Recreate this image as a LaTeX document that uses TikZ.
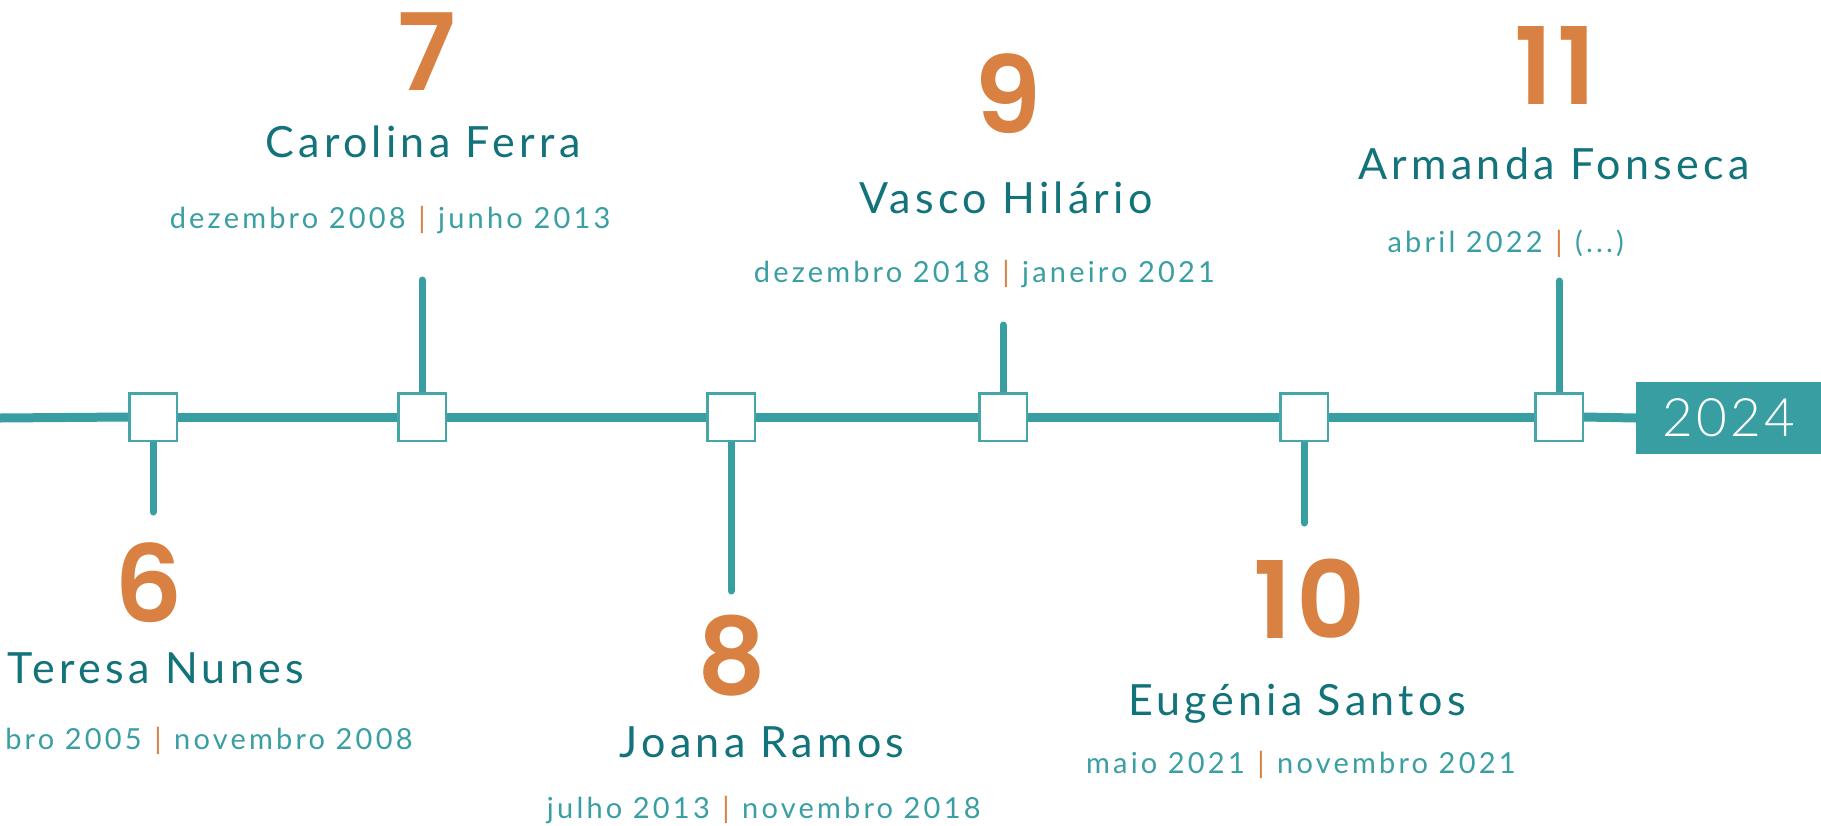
\documentclass[tikz,border=0pt]{standalone}
\usepackage{fontspec}
\setmainfont{Lato}
\newfontfamily\namefont{Lato}[LetterSpace=10]
\newfontfamily\datefont{Lato}[LetterSpace=11]
\newfontfamily\numfont{Poppins SemiBold}[LetterSpace=4]
\newfontfamily\yearfont{Lato Light}[LetterSpace=6]
\definecolor{teal1}{HTML}{389EA2}
\definecolor{tealdark}{HTML}{13737A}
\definecolor{tealtxt}{HTML}{3A9FA3}
\definecolor{orng}{HTML}{D98142}
\definecolor{sqborder}{HTML}{45A5A8}
\pgfdeclarelayer{bg}
\pgfsetlayers{bg,main}
\tikzset{
  sq/.style={draw=sqborder, line width=2.5pt, fill=white, minimum size=47.5pt, inner sep=0pt},
  tl/.style={draw=teal1, line width=9pt},
  stem/.style={draw=teal1, line width=7pt, line cap=round},
  num/.style={text=orng, inner sep=0pt, anchor=base, font=\numfont\fontsize{107}{110}\selectfont},
  pname/.style={text=tealdark, inner sep=0pt, anchor=base, font=\namefont\fontsize{43}{50}\selectfont},
  datetxt/.style={text=tealtxt, inner sep=0pt, font=\datefont\fontsize{29}{34}\selectfont},
  sepbar/.style={text=orng, inner sep=0pt, anchor=base, font=\datefont\fontsize{29}{34}\selectfont},
  yearbox/.style={fill=teal1, text=white, minimum width=185pt, minimum height=72pt, inner sep=0pt, anchor=west, font=\yearfont\fontsize{53}{60}\selectfont},
}
\begin{document}
\begin{tikzpicture}[x=1pt, y=-1pt]
\useasboundingbox (0,0) rectangle (1821,825);
% squares
\node[sq] (s6) at (153,417) {};
\node[sq] (s7) at (422,417) {};
\node[sq] (s8) at (731,417) {};
\node[sq] (s9) at (1003,417) {};
\node[sq] (s10) at (1304,417) {};
\node[sq] (s11) at (1559,417) {};
\node[yearbox] (yr) at (1636,418) {2024};
\coordinate (start) at (0,418);
\coordinate (e6) at (153,512);
\coordinate (e7) at (422,280);
\coordinate (e8) at (731,591);
\coordinate (e9) at (1003,325);
\coordinate (e10) at (1304,523);
\coordinate (e11) at (1559,281);
\begin{pgfonlayer}{bg}
\draw[tl] (start) -- (s6.west);
\draw[tl] (s6.east) -- (s7.west);
\draw[tl] (s7.east) -- (s8.west);
\draw[tl] (s8.east) -- (s9.west);
\draw[tl] (s9.east) -- (s10.west);
\draw[tl] (s10.east) -- (s11.west);
\draw[tl] (s11.east) -- (yr.west);
\draw[stem] (s6.south) -- (e6);
\draw[stem] (s7.north) -- (e7);
\draw[stem] (s8.south) -- (e8);
\draw[stem] (s9.north) -- (e9);
\draw[stem] (s10.south) -- (e10);
\draw[stem] (s11.north) -- (e11);
\end{pgfonlayer}
% numbers
\node[num] (n6) at (149,622) {6};
\node[num] (n7) at (427,90) {7};
\node[num] (n8) at (732,694) {8};
\node[num] (n9) at (1008,133) {9};
\node[num] (n10) at (1310,638) {10};
\node[num] (n11) at (1555,104) {11};
% names
\node[pname] (p6) at (156,683) {Teresa Nunes};
\node[pname] (p7) at (423,157) {Carolina Ferra};
\node[pname] (p8) at (762,757) {Joana Ramos};
\node[pname] (p9) at (1006,213) {Vasco Hilário};
\node[pname] (p10) at (1297,715) {Eugénia Santos};
\node[pname] (p11) at (1554,179) {Armanda Fonseca};
% dates
\node[sepbar] (b6) at (158,749) {|};
\node[datetxt, anchor=base east] (l6) at ([xshift=-16pt]b6.base) {bro 2005};
\node[datetxt, anchor=base west] (r6) at ([xshift=16pt]b6.base) {novembro 2008};
\node[sepbar] (b7) at (422,228) {|};
\node[datetxt, anchor=base east] (l7) at ([xshift=-16pt]b7.base) {dezembro 2008};
\node[datetxt, anchor=base west] (r7) at ([xshift=16pt]b7.base) {junho 2013};
\node[sepbar] (b8) at (726,818) {|};
\node[datetxt, anchor=base east] (l8) at ([xshift=-16pt]b8.base) {julho 2013};
\node[datetxt, anchor=base west] (r8) at ([xshift=16pt]b8.base) {novembro 2018};
\node[sepbar] (b9) at (1006,282) {|};
\node[datetxt, anchor=base east] (l9) at ([xshift=-16pt]b9.base) {dezembro 2018};
\node[datetxt, anchor=base west] (r9) at ([xshift=16pt]b9.base) {janeiro 2021};
\node[sepbar] (b10) at (1261,773) {|};
\node[datetxt, anchor=base east] (l10) at ([xshift=-16pt]b10.base) {maio 2021};
\node[datetxt, anchor=base west] (r10) at ([xshift=16pt]b10.base) {novembro 2021};
\node[sepbar] (b11) at (1559,252) {|};
\node[datetxt, anchor=base east] (l11) at ([xshift=-16pt]b11.base) {abril 2022};
\node[datetxt, anchor=base west] (r11) at ([xshift=16pt]b11.base) {(...)};
\end{tikzpicture}
\end{document}
